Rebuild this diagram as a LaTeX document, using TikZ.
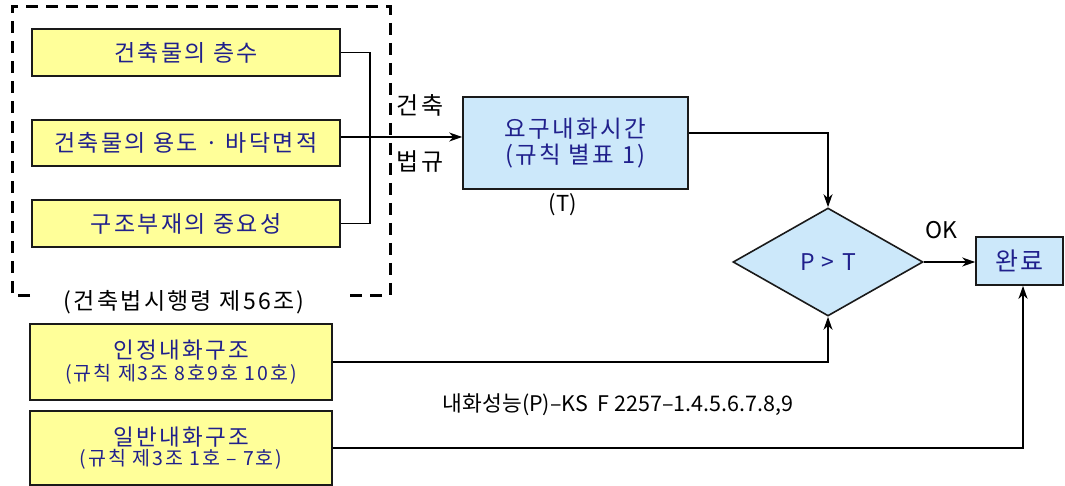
\documentclass[tikz,border=0pt]{standalone}
\usepackage{fontspec}
\setmainfont{Noto Sans CJK KR}
\newfontfamily\kr[LetterSpace=10]{Noto Sans CJK KR}
\newfontfamily\krn{Noto Sans CJK KR}
\usetikzlibrary{shapes.geometric,arrows.meta}
\definecolor{boxyellow}{HTML}{FFFF99}
\definecolor{boxblue}{HTML}{CCE8FA}
\definecolor{navy}{HTML}{20208C}
\definecolor{edge}{HTML}{1A1A1A}
\begin{document}
\begin{tikzpicture}[x=1pt,y=-1pt,
  every node/.style={inner sep=0pt},
  ybox/.style={draw=edge, line width=1.6pt, fill=boxyellow, minimum width=308pt, minimum height=47pt, text=navy, font=\kr\fontsize{23}{26}\selectfont},
  bbox/.style={draw=edge, line width=1.6pt, fill=boxblue, text=navy, font=\kr\fontsize{23.5}{27}\selectfont, align=center},
  lbl/.style={text=black, font=\kr\fontsize{23}{26}\selectfont},
  conn/.style={draw=black, line width=1.6pt},
  tip/.style={-{Stealth[length=13pt,width=9pt,inset=4pt]}},
  frame/.style={line width=3pt, dash pattern=on 12pt off 8pt}
]
\useasboundingbox (0,0) rectangle (1065,486);

% dashed frame
\draw[frame] (30,295) -- (12,295) -- (12,7) -- (390,7) -- (390,295) -- (343,295);

% left boxes
\node[ybox] (b1) at (186,52.5) {건축물의 층수};
\node[ybox, minimum height=46pt] (b2) at (186,143) {건축물의 용도 · 바닥면적};
\node[ybox] (b3) at (186,223.5) {구조부재의 중요성};
\node[lbl] (law) at (184,302) {(건축법시행령 제56조)};

\node[ybox, minimum width=302pt, minimum height=76pt, align=center, font=\kr\fontsize{22.5}{25}\selectfont] (b4) at (181,362)
  {인정내화구조\\[-3pt]{\fontsize{19.5}{22}\selectfont (규칙 제3조 8호9호 10호)}};
\node[ybox, minimum width=302pt, minimum height=74pt, align=center, font=\kr\fontsize{22.5}{25}\selectfont] (b5) at (181,448)
  {일반내화구조\\[-5pt]{\fontsize{19.5}{22}\selectfont (규칙 제3조 1호 – 7호)}};

% required time box
\node[bbox, minimum width=225pt, minimum height=92pt] (req) at (575.5,143)
  {요구내화시간\\[-1pt](규칙 별표 1)};
\node[lbl, font=\krn\fontsize{22}{26}\selectfont] (t) at (563,205) {(T)};
\node[lbl, font=\kr\fontsize{24}{26}\selectfont] (g1) at (420,105) {건축};
\node[lbl, font=\kr\fontsize{24}{26}\selectfont] (g2) at (420,162) {법규};

% decision
\node[diamond, draw=edge, line width=1.6pt, fill=boxblue, minimum width=190pt, minimum height=108pt, aspect=1.76, text=navy, font=\kr\fontsize{23}{26}\selectfont] (dia) at (828,262) {P > T};
\node[lbl, font=\krn\fontsize{23}{26}\selectfont] (ok) at (941,230) {OK};
\node[bbox, minimum width=87pt, minimum height=48pt, font=\kr\fontsize{25}{28}\selectfont] (done) at (1019.5,261) {완료};

\node[lbl, font=\krn\fontsize{21.5}{26}\selectfont] (ks) at (618,405) {내화성능(P)–KS\ \ F 2257–1.4.5.6.7.8,9};

% connectors
\coordinate (j) at (370,52.5);
\draw[conn] (b1.east) -- (j) |- (b3.east);
\draw[conn, tip] ([yshift=6pt]b2.east) -- ([yshift=6pt]b2.east -| req.west);
\draw[conn, tip] ([yshift=10pt]req.east) -| (dia.north);
\draw[conn, tip] (dia.east) -- (done.west |- dia.east);
\draw[conn, tip] (b4.east) -| (dia.south);
\draw[conn, line width=2.4pt, tip] (b5.east) -| ([xshift=3.5pt]done.south);
\end{tikzpicture}
\end{document}
